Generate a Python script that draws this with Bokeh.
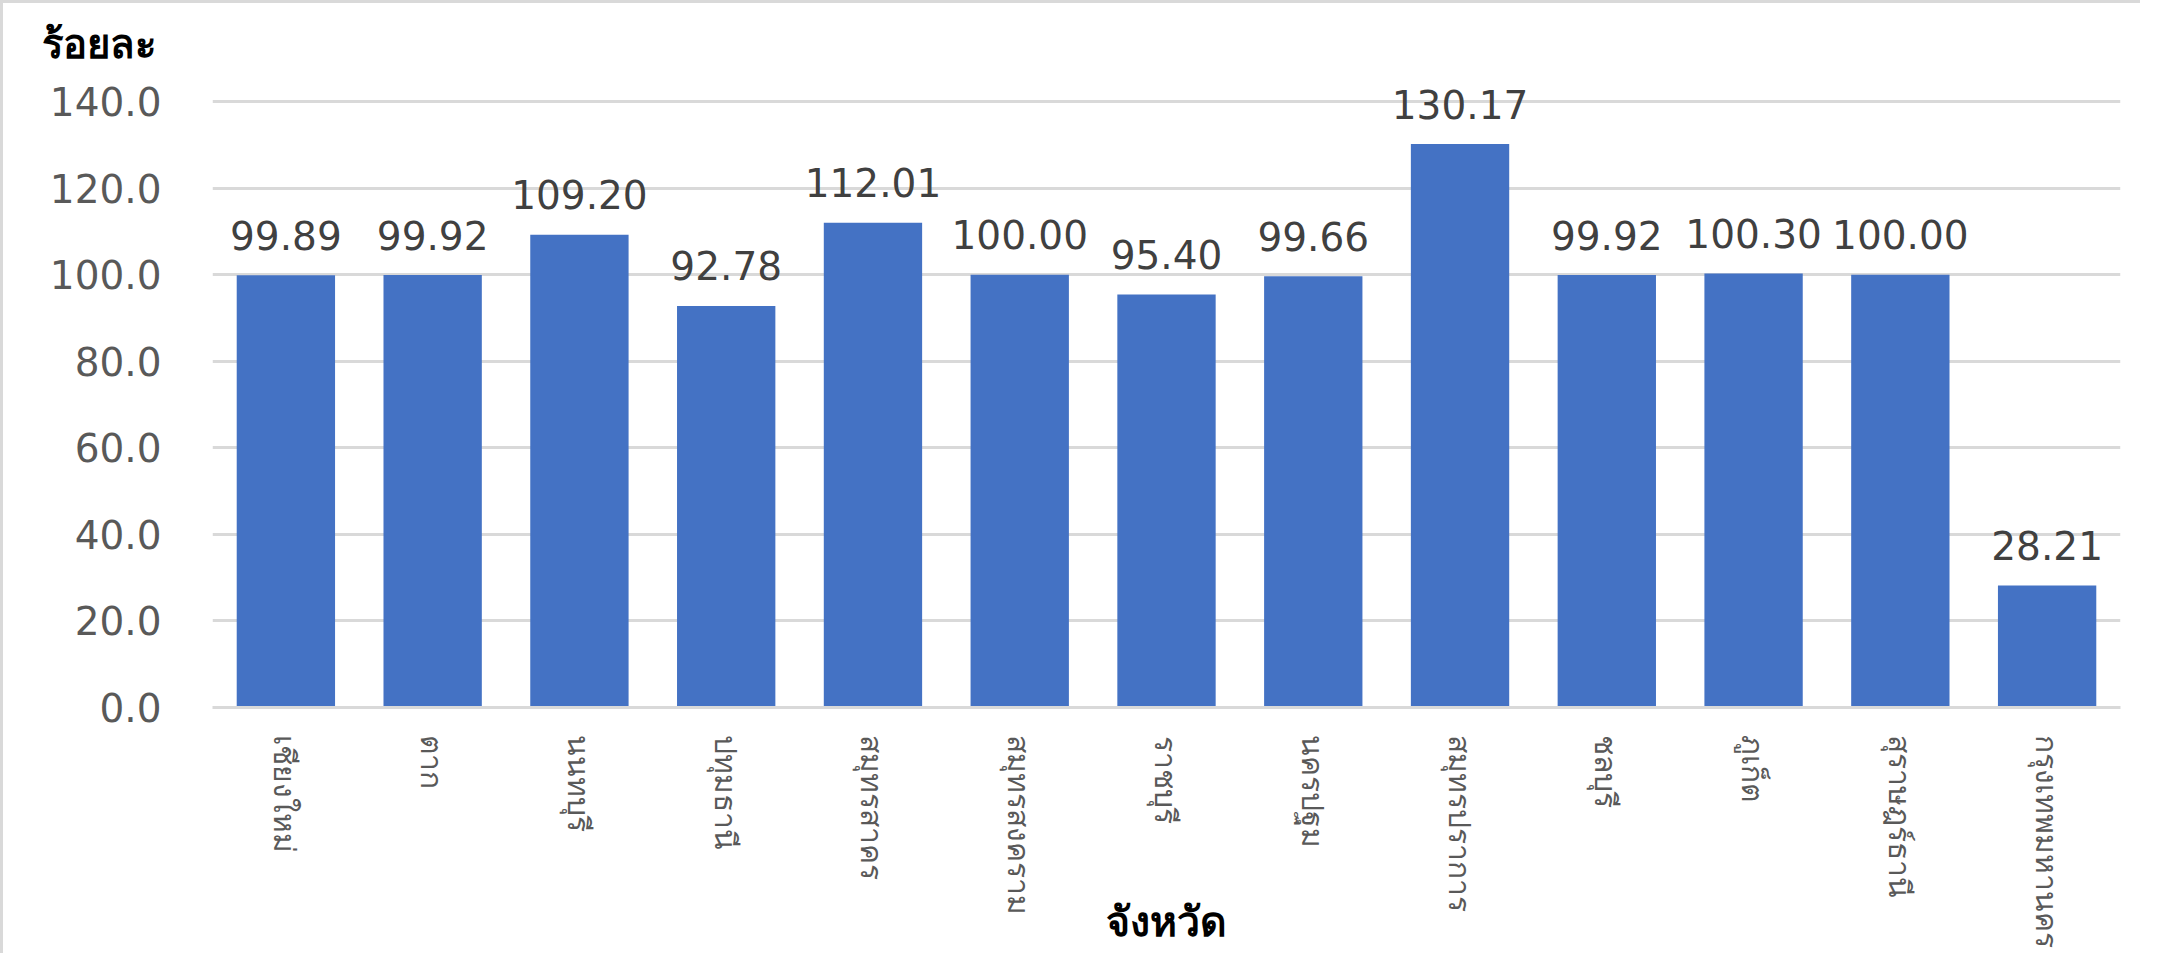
import math
from bokeh.plotting import figure
from bokeh.models import ColumnDataSource, FixedTicker, Range1d, FactorRange, PrintfTickFormatter
from bokeh.core.properties import value
from bokeh.embed import file_html
from bokeh.resources import INLINE

provinces = ["เชียงใหม่", "ตาก", "นนทบุรี", "ปทุมธานี", "สมุทรสาคร", "สมุทรสงคราม",
             "ราชบุรี", "นครปฐม", "สมุทรปราการ", "ชลบุรี", "ภูเก็ต", "สุราษฎร์ธานี",
             "กรุงเทพมหานคร"]
percent = [99.89, 99.92, 109.20, 92.78, 112.01, 100.00, 95.40, 99.66, 130.17,
           99.92, 100.30, 100.00, 28.21]
y_ticks = [0, 20, 40, 60, 80, 100, 120, 140]
y_title = "ร้อยละ"
x_title = "จังหวัด"

src = ColumnDataSource(dict(x=provinces, y=percent, lbl=[f"{v:.2f}" for v in percent]))

p = figure(x_range=FactorRange(*provinces), y_range=Range1d(0, 144.4),
           width=2140, height=953, output_backend="svg", toolbar_location=None,
           min_border_left=209, min_border_right=23, min_border_top=76, min_border_bottom=249,
           title=y_title)
p.styles = {"border-top": "3px solid #d9d9d9", "border-left": "3px solid #d9d9d9"}
p.outline_line_color = None
p.background_fill_color = "white"
p.border_fill_color = "white"

p.title.align = "left"
p.title.vertical_align = "top"
p.title.offset = -171
p.title.standoff = 22
p.title.text_font = "Noto Sans"
p.title.text_font_style = "bold"
p.title.text_font_size = "40px"
p.title.text_color = "black"

p.vbar(x="x", top="y", width=0.67, source=src, fill_color="#4472C4", line_color=None)
p.text(x="x", y="y", text="lbl", source=src, y_offset=-40, text_align="center",
       text_baseline="alphabetic", text_font=value("DejaVu Sans"),
       text_font_size="39px", text_color="#404040")

p.xgrid.grid_line_color = None
p.ygrid.grid_line_color = "#d9d9d9"
p.ygrid.grid_line_width = 3

p.yaxis.ticker = FixedTicker(ticks=y_ticks)
p.yaxis.formatter = PrintfTickFormatter(format="%.1f")
p.yaxis.axis_line_color = None
p.yaxis.major_tick_line_color = None
p.yaxis.minor_tick_line_color = None
p.yaxis.major_label_text_font = "DejaVu Sans"
p.yaxis.major_label_text_font_size = "39px"
p.yaxis.major_label_text_color = "#595959"
p.yaxis.major_label_standoff = 45

p.xaxis.axis_line_color = "#d9d9d9"
p.xaxis.axis_line_width = 3
p.xaxis.major_tick_line_color = None
p.xaxis.minor_tick_line_color = None
p.xaxis.major_label_orientation = -math.pi / 2
p.xaxis.major_label_text_font = "Noto Sans"
p.xaxis.major_label_text_font_size = "30px"
p.xaxis.major_label_text_color = "#595959"
p.xaxis.major_label_standoff = 22
p.xaxis.axis_label = x_title
p.xaxis.axis_label_standoff = -60
p.xaxis.axis_label_text_font = "Noto Sans"
p.xaxis.axis_label_text_font_style = "bold"
p.xaxis.axis_label_text_font_size = "41px"
p.xaxis.axis_label_text_color = "black"

open("out.html", "w").write(file_html(p, INLINE))
